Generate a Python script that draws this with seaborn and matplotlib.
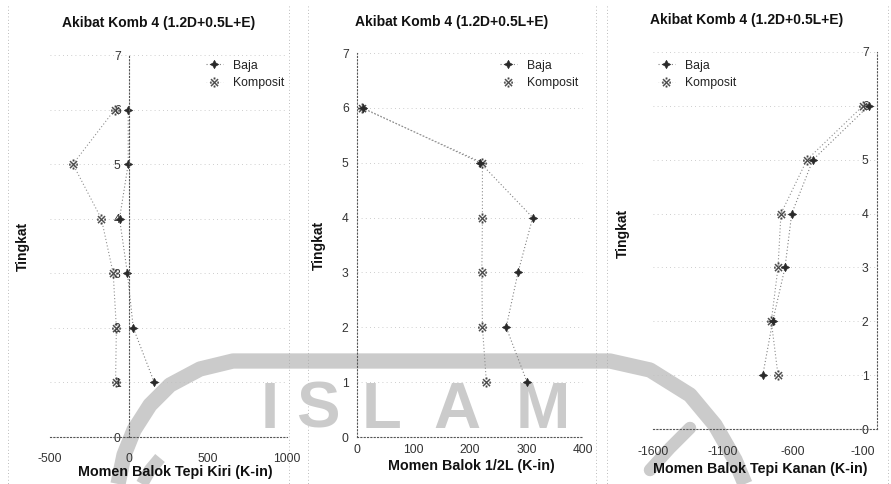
import matplotlib
matplotlib.use("Agg")
import matplotlib.pyplot as plt
import seaborn as sns
import pandas as pd
from matplotlib.lines import Line2D

sns.set_theme(style="white")
plt.rcParams["font.family"] = ["Liberation Sans", "DejaVu Sans"]
plt.rcParams["mathtext.fontset"] = "dejavusans"
plt.rcParams["axes.unicode_minus"] = False

# ---- data -------------------------------------------------------------
tingkat = [1, 2, 3, 4, 5, 6]

# Momen balok tepi kiri (K-in)
baja_kiri = [160, 27, -10, -60, -5, -5]
komposit_kiri = [-85, -80, -100, -175, -355, -90]

# Momen balok 1/2 L (K-in)
baja_tengah = [301, 264, 285, 311, 218, 10]
komposit_tengah = [229, 222, 221, 222, 222, 8]

# Momen balok tepi kanan (K-in)
baja_kanan = [-816, -745, -657, -609, -457, -60]
komposit_kanan = [-707, -755, -707, -686, -500, -100]

judul = "Akibat Komb 4 (1.2D+0.5L+E)"
label_x = ["Momen Balok Tepi Kiri (K-in)",
           "Momen Balok 1/2L (K-in)",
           "Momen Balok Tepi Kanan (K-in)"]
xticks_kiri = [-500, 0, 500, 1000]
xticks_tengah = [0, 100, 200, 300, 400]
xticks_kanan = [-1600, -1100, -600, -100]
yticks = [0, 1, 2, 3, 4, 5, 6, 7]
seri = ["Baja", "Komposit"]

W, H = 891, 484
fig = plt.figure(figsize=(W / 100, H / 100), dpi=100)

# ---- faded university watermark behind the charts ---------------------
bg = fig.add_axes([0, 0, 1, 1], zorder=-5)
bg.set_xlim(0, W)
bg.set_ylim(H, 0)
bg.axis("off")
wm = "#cbcbcb"
ring_x = [118, 124, 134, 150, 170, 200, 233, 610, 650, 690, 715, 735, 745]
ring_y = [484, 455, 430, 405, 385, 369, 361, 361, 370, 395, 425, 460, 484]
bg.plot(ring_x, ring_y, color=wm, lw=11, solid_capstyle="butt",
        solid_joinstyle="round")
bg.plot([160, 150, 142], [458, 470, 484], color=wm, lw=9,
        solid_capstyle="butt")
bg.plot([690, 670, 650], [428, 448, 470], color=wm, lw=9,
        solid_capstyle="round")
for ch, cx in zip("ISLAM", [270, 318, 382, 457, 543]):
    bg.text(cx, 428, ch, color=wm, fontsize=47, fontweight="bold",
            ha="center", va="baseline", family="Liberation Sans")

# faint dotted chart-area frames
for fx in [8, 289, 308, 596, 607, 888]:
    bg.plot([fx, fx], [6, 484], color="#a5a5a5", lw=0.6,
            ls=(0, (1, 3)))

# ---- chart panels ------------------------------------------------------
def rect(left_px, right_px, bottom_px, top_px):
    return [left_px / W, 1 - bottom_px / H,
            (right_px - left_px) / W, (bottom_px - top_px) / H]

panels = [
    dict(rect=rect(50, 287, 437, 55), xlim=(-500, 1000),
         xticks=xticks_kiri, baja=baja_kiri, komp=komposit_kiri,
         xpad=11.5, xlab=(0.53, -0.072), ylab=(-0.084, 0.5),
         title=(159, 23), leg=(196, 50)),
    dict(rect=rect(357, 583, 437, 53), xlim=(0, 400),
         xticks=xticks_tengah, baja=baja_tengah, komp=komposit_tengah,
         xpad=5, xlab=(0.505, -0.058), ylab=(-0.138, 0.5),
         title=(452, 22), leg=(490, 50)),
    dict(rect=rect(653, 877, 429, 52), xlim=(-1600, 0),
         xticks=xticks_kanan, baja=baja_kanan, komp=komposit_kanan,
         xpad=12, xlab=(0.48, -0.088), ylab=(-0.102, 0.52),
         title=(747, 20), leg=(648, 50)),
]

ink = "#2a2a2a"
baja_marker = (4, 1, 0)
komp_marker = "$\u203b$"

for p, xl in zip(panels, label_x):
    ax = fig.add_axes(p["rect"])
    ax.patch.set_alpha(0)

    df = pd.DataFrame({"Tingkat": tingkat * 2,
                       "Momen": p["baja"] + p["komp"],
                       "Seri": [seri[0]] * 6 + [seri[1]] * 6})
    sub_b = df[df["Seri"] == "Baja"]
    sub_k = df[df["Seri"] == "Komposit"]
    sns.lineplot(data=sub_k, x="Momen", y="Tingkat", sort=False,
                 estimator=None, ax=ax, color="#8f8f8f", lw=0.8,
                 linestyle=(0, (1, 2)), marker=komp_marker, markersize=7,
                 markeredgewidth=0.2, markerfacecolor="#444444",
                 markeredgecolor="#444444", zorder=2)
    sns.lineplot(data=sub_b, x="Momen", y="Tingkat", sort=False,
                 estimator=None, ax=ax, color="#808080", lw=0.8,
                 linestyle=(0, (1, 2)), marker=baja_marker, markersize=6,
                 markerfacecolor=ink, markeredgecolor=ink,
                 markeredgewidth=0.5, zorder=2.2)

    ax.set_xlim(*p["xlim"])
    ax.set_ylim(0, 7)
    ax.set_xticks(p["xticks"])
    ax.set_yticks(yticks)
    ax.grid(axis="y", color="#bdbdbd", lw=0.6, ls=(0, (1, 4)))
    ax.grid(axis="x", visible=False)

    for s in ["top", "right"]:
        ax.spines[s].set_visible(False)
    ax.spines["left"].set_position(("data", 0))
    for s in ["left", "bottom"]:
        ax.spines[s].set_color("#555555")
        ax.spines[s].set_linewidth(0.8)
        ax.spines[s].set_linestyle((0, (1, 2)))

    ax.tick_params(axis="y", length=0, pad=6, labelsize=8.7,
                   labelcolor="#333333")
    ax.tick_params(axis="x", length=0, pad=p["xpad"], labelsize=8.7,
                   labelcolor="#333333")

    ax.set_xlabel(xl, fontsize=10.3, fontweight="bold", color="#111111")
    ax.xaxis.set_label_coords(*p["xlab"])
    ax.set_ylabel("Tingkat", fontsize=10, fontweight="bold",
                  color="#111111")
    ax.yaxis.set_label_coords(*p["ylab"])

    fig.text(p["title"][0] / W, 1 - p["title"][1] / H, judul,
             ha="center", va="center", fontsize=10, fontweight="bold",
             color="#111111")

    handles = [
        Line2D([], [], color="#808080", lw=0.8, ls=(0, (1, 2)),
               marker=baja_marker, markersize=6, markerfacecolor=ink,
               markeredgecolor=ink, markeredgewidth=0.5),
        Line2D([], [], color="#d5d5d5", lw=0.5, ls=(0, (1, 3)),
               marker=komp_marker, markersize=7,
               markerfacecolor="#444444", markeredgecolor="#444444",
               markeredgewidth=0.2),
    ]
    leg = ax.legend(handles, seri, loc="upper left",
                    bbox_to_anchor=(p["leg"][0] / W, 1 - p["leg"][1] / H),
                    bbox_transform=fig.transFigure, fontsize=8.8,
                    handlelength=1.4, handletextpad=0.8, labelspacing=0.45,
                    borderpad=0.3, frameon=False)
    for t in leg.get_texts():
        t.set_color("#222222")

fig.savefig("out.png", dpi=100, facecolor="white")
